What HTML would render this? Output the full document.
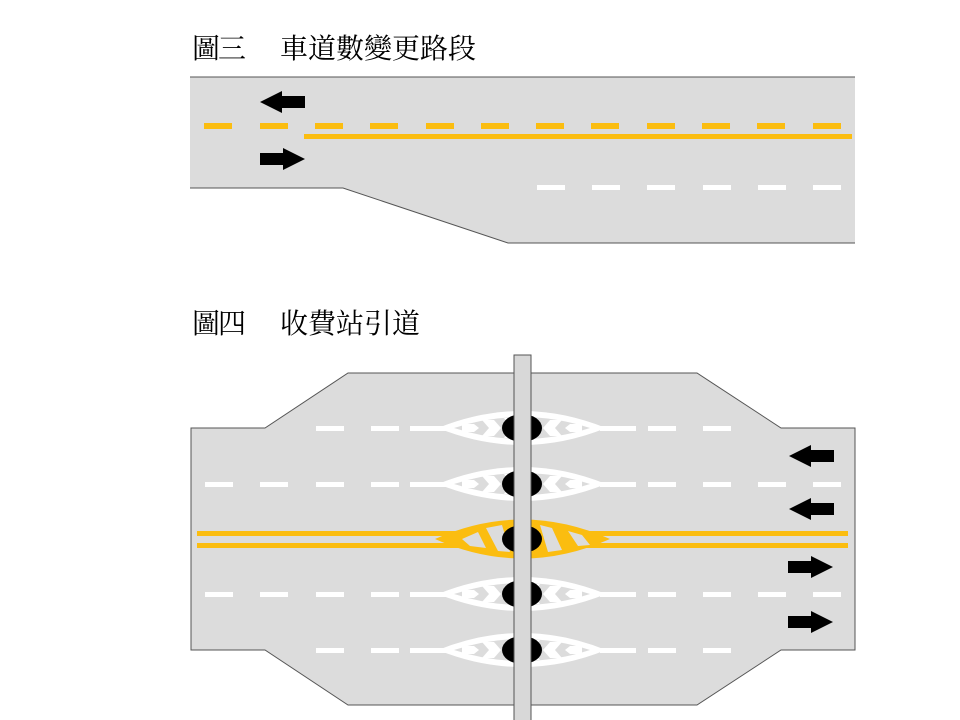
<!DOCTYPE html>
<html><head><meta charset="utf-8"><style>html,body{margin:0;padding:0;background:#fff}svg{display:block}</style></head><body>
<svg width="960" height="720" viewBox="0 0 960 720" xmlns="http://www.w3.org/2000/svg">
<defs>
<g id="lw">
  <path d="M-84,0 Q0,-34 84,0 Q0,34 -84,0Z" fill="#fff"/>
  <path d="M-68,0 Q0,-22 68,0 Q0,22 -68,0Z" fill="#dcdcdc"/>
  <path d="M-60,-4 L-48,-4 L-43,0 L-48,4 L-60,4Z M-40,-8 L-28,-8 L-21,0 L-28,8 L-40,8 L-33,0Z M-18,-10 L-8,-10 L-1,0 L-8,10 L-18,10 L-11,0Z" fill="#fff"/>
  <path d="M60,-4 L48,-4 L43,0 L48,4 L60,4Z M40,-8 L28,-8 L21,0 L28,8 L40,8 L33,0Z" fill="#fff"/>
</g>
<g id="la"><path d="M0,0 L22,-11 L22,-6 L45,-6 L45,6 L22,6 L22,11Z" fill="#000"/></g>
<g id="ra"><path d="M0,0 L-22,-11 L-22,-6 L-45,-6 L-45,6 L-22,6 L-22,11Z" fill="#000"/></g>
</defs>
<g font-family="'Liberation Serif','Noto Serif CJK SC',serif" font-size="28" fill="#000">
<text x="192" y="58" textLength="54">圖三</text>
<text x="280" y="58" textLength="196">車道數變更路段</text>
<text x="192" y="333" textLength="54">圖四</text>
<text x="280" y="333" textLength="140">收費站引道</text>
</g>
<path d="M190,77 L855,77 L855,243 L508,243 L343,188 L190,188Z" fill="#dcdcdc"/>
<path d="M190,77 L855,77 M190,188 L343,188 L508,243 L855,243" stroke="#555" stroke-width="1" fill="none"/>
<g fill="#fbbd10">
<rect x="204" y="123" width="28" height="6"/><rect x="260" y="123" width="28" height="6"/><rect x="315" y="123" width="28" height="6"/><rect x="370" y="123" width="28" height="6"/><rect x="426" y="123" width="28" height="6"/><rect x="481" y="123" width="28" height="6"/><rect x="536" y="123" width="28" height="6"/><rect x="591" y="123" width="28" height="6"/><rect x="647" y="123" width="28" height="6"/><rect x="702" y="123" width="28" height="6"/><rect x="757" y="123" width="28" height="6"/><rect x="813" y="123" width="28" height="6"/>
<rect x="304" y="134" width="548" height="5"/>
</g>
<g fill="#fff">
<rect x="537" y="185" width="28" height="5"/><rect x="592" y="185" width="28" height="5"/><rect x="647" y="185" width="28" height="5"/><rect x="703" y="185" width="28" height="5"/><rect x="758" y="185" width="28" height="5"/><rect x="813" y="185" width="28" height="5"/>
</g>
<use href="#la" x="260" y="102"/>
<use href="#ra" x="305" y="159"/>
<path d="M191,428 L265,428 L348,373 L697,373 L781,428 L855,428 L855,650 L781,650 L697,705 L348,705 L265,650 L191,650Z" fill="#dcdcdc" stroke="#555" stroke-width="1"/>
<g fill="#fff">
<rect x="316" y="426" width="28" height="5"/><rect x="371" y="426" width="28" height="5"/><rect x="410" y="426" width="40" height="5"/><rect x="600" y="426" width="36" height="5"/><rect x="648" y="426" width="28" height="5"/><rect x="703" y="426" width="28" height="5"/>
<rect x="205" y="482" width="28" height="5"/><rect x="260" y="482" width="28" height="5"/><rect x="316" y="482" width="28" height="5"/><rect x="371" y="482" width="28" height="5"/><rect x="410" y="482" width="40" height="5"/><rect x="600" y="482" width="36" height="5"/><rect x="648" y="482" width="28" height="5"/><rect x="703" y="482" width="28" height="5"/><rect x="758" y="482" width="28" height="5"/><rect x="813" y="482" width="28" height="5"/>
<rect x="205" y="592" width="28" height="5"/><rect x="260" y="592" width="28" height="5"/><rect x="316" y="592" width="28" height="5"/><rect x="371" y="592" width="28" height="5"/><rect x="410" y="592" width="40" height="5"/><rect x="600" y="592" width="36" height="5"/><rect x="648" y="592" width="28" height="5"/><rect x="703" y="592" width="28" height="5"/><rect x="758" y="592" width="28" height="5"/><rect x="813" y="592" width="28" height="5"/>
<rect x="316" y="648" width="28" height="5"/><rect x="371" y="648" width="28" height="5"/><rect x="410" y="648" width="40" height="5"/><rect x="600" y="648" width="36" height="5"/><rect x="648" y="648" width="28" height="5"/><rect x="703" y="648" width="28" height="5"/>
</g>
<use href="#lw" x="522" y="428"/>
<use href="#lw" x="522" y="484"/>
<g transform="translate(522,594) scale(-1,1)"><use href="#lw"/></g>
<g transform="translate(522,650) scale(-1,1)"><use href="#lw"/></g>
<g fill="#fbbd10">
<rect x="197" y="531" width="651" height="5"/><rect x="197" y="543" width="651" height="5"/>
<path d="M435,539 Q522,500 610,539 Q522,578 435,539Z"/>
</g>
<g fill="#dcdcdc">
<path d="M462,539 L478,532 L486,548 L470,546Z M486,528 L502,525 L510,552 L498,551Z M540,525 L552,528 L562,550 L548,552Z M568,531 L582,535 L590,545 L578,546Z"/>
</g>
<g fill="#000">
<ellipse cx="522" cy="428" rx="20" ry="14"/><ellipse cx="522" cy="484" rx="20" ry="14"/><ellipse cx="522" cy="539" rx="20" ry="14"/><ellipse cx="522" cy="594" rx="20" ry="14"/><ellipse cx="522" cy="650" rx="20" ry="14"/>
</g>
<rect x="514" y="355" width="17" height="366" fill="#d8d8d8" stroke="#555" stroke-width="1"/>
<use href="#la" x="789" y="456"/>
<use href="#la" x="789" y="509"/>
<use href="#ra" x="833" y="567"/>
<use href="#ra" x="833" y="622"/>
</svg>
</body></html>
